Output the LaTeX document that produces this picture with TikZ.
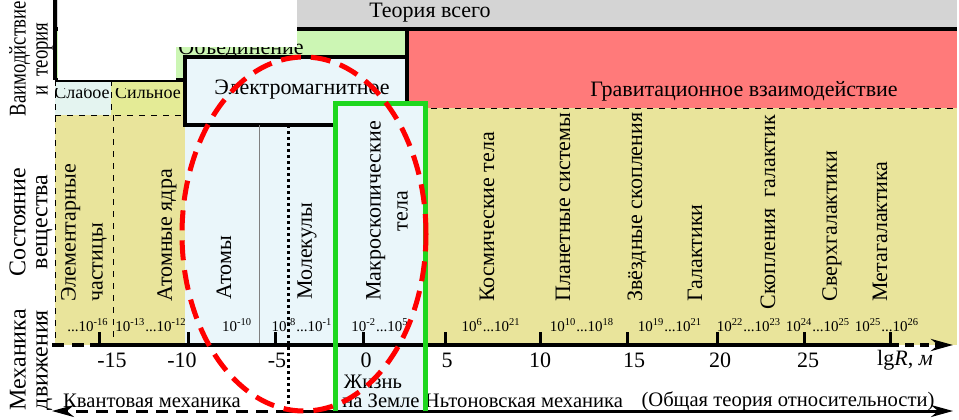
\documentclass[tikz,border=0pt]{standalone}
\usepackage{fontspec}
\setmainfont{Liberation Serif}
\usetikzlibrary{arrows.meta}

\definecolor{bandgray}{RGB}{212,212,212}
\definecolor{unifgreen}{RGB}{204,246,180}
\definecolor{gravred}{RGB}{255,122,122}
\definecolor{emblue}{RGB}{234,246,250}
\definecolor{khaki}{RGB}{233,228,155}
\definecolor{weakblue}{RGB}{228,244,240}
\definecolor{strongyellow}{RGB}{228,235,150}
\definecolor{lifegreen}{RGB}{30,215,30}

\tikzset{
  txt/.style={font=\fontsize{11}{13.5}\selectfont, inner sep=0pt},
  btxt/.style={font=\fontsize{10.3}{12}\selectfont, inner sep=0pt},
  vtxt/.style={txt, rotate=90, anchor=west, align=left},
  sidetxt/.style={font=\fontsize{12}{11}\selectfont, rotate=90, inner sep=0pt, align=center},
  rng/.style={font=\fontsize{7.5}{8}\selectfont, inner sep=0pt},
  thickline/.style={line width=1.6pt},
  tickline/.style={line width=1.5pt},
  longdash/.style={dash pattern=on 6pt off 4pt},
}

\begin{document}
\begin{tikzpicture}[x=0.5pt, y=-0.5pt]
    \useasboundingbox (0,0) rectangle (959,419);

    % Фон полос
    \fill[bandgray] (55,0) rectangle (957,29);
    \fill[unifgreen] (55,29) rectangle (407,80);
    \fill[gravred] (407,29) rectangle (957,108);
    \fill[weakblue] (55,80) rectangle (111,115);
    \fill[strongyellow] (111,80) rectangle (185,115);
    \fill[khaki] (55,115) rectangle (185,345);
    \fill[khaki] (407,108) rectangle (957,345);
    \fill[emblue] (185,125) rectangle (425,345);

    % Границы областей
    \draw[thin, dashed] (55,80) -- (55,345);
    \draw[thin, dashed] (111,80) -- (111,115);
    \draw[thin, dashed] (55,115) -- (185,115);
    \draw[thin, dashed] (113,115) -- (113,345);
    \draw[thin, dashed] (407,108) -- (957,108);
    \draw[thickline] (55,0) -- (55,80);
    \draw[thickline] (55,29) -- (957,29);
    \draw[thickline] (55,80) -- (185,80);
    \draw[thickline] (407,29) -- (407,57);
    \draw[thickline, fill=emblue] (185,57) rectangle (407,125);
    \draw[gray, thin] (259,125) -- (259,345);

    % Жизнь на Земле
    \fill[emblue] (335,103) rectangle (425,411);

    % Взаимодействия
    \node[txt] (all) at (430,13) {Теория всего};
    \node[txt, anchor=base] (unif) at (241,54) {Объединение};
    \node[txt] (grav) at (744,91) {Гравитационное взаимодействие};
    \node[txt] (em) at (302,90) {Электромагнитное};
    \begin{scope}
        \clip (55,88) rectangle (185,115);
        \node[txt, font=\fontsize{9}{10}\selectfont, anchor=base] (weak) at (82,98) {Слабое};
        \node[txt, font=\fontsize{9}{10}\selectfont, anchor=base] (strong) at (148,98) {Сильное};
    \end{scope}

    % Состояние вещества
    \node[vtxt] (elem) at (84,302) {Элементарные\\частицы};
    \node[vtxt] (nucl) at (167,302) {Атомные ядра};
    \node[vtxt] (atom) at (224,300) {Атомы};
    \node[vtxt] (mol) at (307,300) {Молекулы};
    \node[txt, rotate=90, align=center] (macro) at (387,211) {Макроскопические\\тела};
    \node[vtxt] (cosm) at (487,302) {Космические тела};
    \node[vtxt] (plan) at (563,302) {Планетные системы};
    \node[vtxt] (star) at (637,302) {Звёздные скопления};
    \node[vtxt] (gal) at (695,302) {Галактики};
    \node[vtxt] (clus) at (768,310) {Скопления\ \ галактик};
    \node[vtxt] (sgal) at (832,302) {Сверхгалактики};
    \node[vtxt] (mgal) at (880,302) {Метагалактика};

    % Диапазоны размеров
    \node[rng] (r1) at (88,325) {...10\textsuperscript{-16}};
    \node[rng] (r2) at (151,325) {10\textsuperscript{-13}...10\textsuperscript{-12}};
    \node[rng] (r3) at (237,325) {10\textsuperscript{-10}};
    \node[rng] (r4) at (302,325) {10\textsuperscript{-8}...10\textsuperscript{-1}};
    \node[rng] (r5) at (380,325) {10\textsuperscript{-2}...10\textsuperscript{5}};
    \node[rng] (r6) at (491,325) {10\textsuperscript{6}...10\textsuperscript{21}};
    \node[rng] (r7) at (582,325) {10\textsuperscript{10}...10\textsuperscript{18}};
    \node[rng] (r8) at (670,325) {10\textsuperscript{19}...10\textsuperscript{21}};
    \node[rng] (r9) at (749,325) {10\textsuperscript{22}...10\textsuperscript{23}};
    \node[rng] (r10) at (818,325) {10\textsuperscript{24}...10\textsuperscript{25}};
    \node[rng] (r11) at (887,325) {10\textsuperscript{25}...10\textsuperscript{26}};

    % Ось lgR
    \coordinate (axL) at (52,345);
    \coordinate (axA) at (90,345);
    \coordinate (axB) at (890,345);
    \coordinate (axR) at (953,345);
    \draw[line width=2pt, longdash] (axL) -- (axA);
    \draw[line width=2pt] (axA) -- (axB);
    \draw[line width=2pt, dash pattern=on 4.5pt off 3pt, -{Stealth[length=11pt, width=6pt]}] (axB) -- (axR);
    \foreach \x in {99,188,275,363,445,540,627,717,804,890}
        \draw[tickline] (\x,332) -- (\x,345);
    \foreach \x/\v [count=\i] in {112/-15,182/-10,277/-5,366/0,447/5,540/10,634/15,720/20,808/25}
        \node[txt] (tk\i) at (\x,360) {\v};
    \node[txt] (lgr) at (905,360) {lg\textit{R}, \textit{м}};

    % Механика движения
    \coordinate (mL) at (52,411);
    \coordinate (mM) at (288,411);
    \coordinate (mR) at (953,411);
    \draw[line width=1.5pt, dash pattern=on 1.5pt off 1.5pt] (288,125) -- (mM);
    \node[btxt] (quant) at (152,401) {Квантовая механика};
    \node[btxt] (life1) at (373,382) {Жизнь};
    \node[btxt] (life2) at (381,401) {на Земле};
    \node[btxt] (newt) at (524,401) {Ньтоновская механика};
    \node[btxt] (gtr) at (788,401) {(Общая теория относительности)};
    \draw[line width=1.5pt, longdash, -{Stealth[length=11pt, width=6pt]}] (mM) -- (mL);
    \draw[line width=1.5pt, -{Stealth[length=11pt, width=6pt]}] (mM) -- (mR);
    \draw[line width=2.5pt, lifegreen] (335,411) -- (335,103) -- (425,103) -- (425,411);

    % Закрытая часть
    \fill[white] (58,0) rectangle (297,47);
    \fill[white] (58,47) rectangle (176,80);

    % Подписи слева
    \node[sidetxt] (s1) at (31,59) {\scalebox{0.78}[1]{Ваимодйствие}\\\scalebox{0.78}[1]{и\ \ теория}};
    \node[sidetxt] (s2) at (31,222) {Состояние\\вещества};
    \node[sidetxt] (s3) at (31,360) {Механика\\движения};

    % Овал
    \draw[red, line width=2.5pt, dash pattern=on 10pt off 5pt] (304,234) ellipse [x radius=61pt, y radius=88.5pt];
\end{tikzpicture}
\end{document}
